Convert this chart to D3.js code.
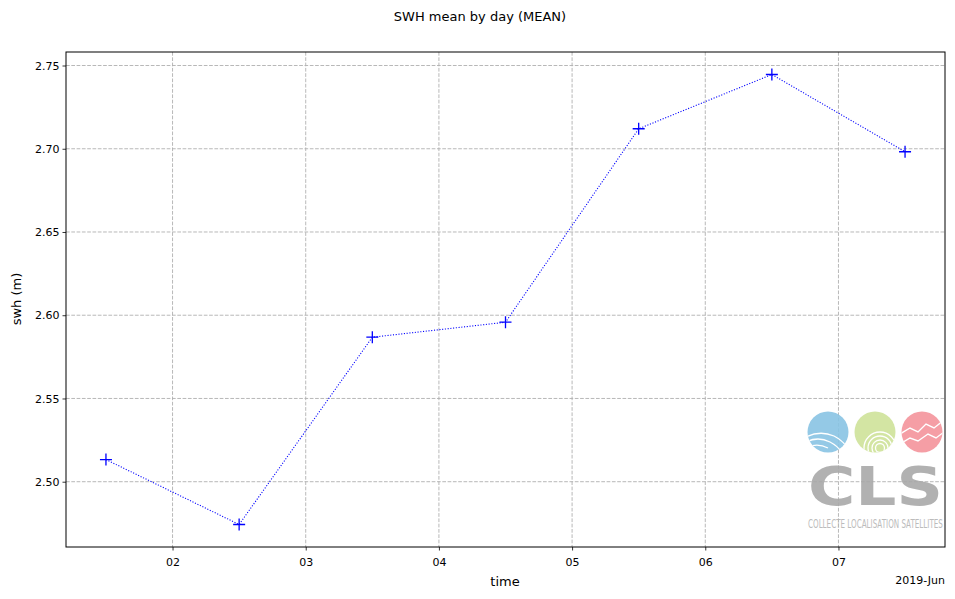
<!DOCTYPE html>
<html><head><meta charset="utf-8">
<script src="https://cdn.jsdelivr.net/npm/d3@7"></script>
<style>body{margin:0;background:#fff}svg{display:block}text{font-family:"DejaVu Sans",sans-serif}</style>
</head><body>
<svg id="c" width="955" height="599"></svg>
<script>
const days = ["2019-06-01","2019-06-02","2019-06-03","2019-06-04","2019-06-05","2019-06-06","2019-06-07"];
const swh = [2.5133, 2.4743, 2.5868, 2.5958, 2.7120, 2.7446, 2.6982];
const yTicks = [2.50, 2.55, 2.60, 2.65, 2.70, 2.75];
const xTickDays = ["2019-06-02","2019-06-03","2019-06-04","2019-06-05","2019-06-06","2019-06-07"];
const title = "SWH mean by day (MEAN)";
const xLabel = "time", yLabel = "swh (m)", xOffset = "2019-Jun";

const svg = d3.select("#c");
const L = 66, R = 945, T = 52, B = 547;
const parse = d3.utcParse("%Y-%m-%d");
const pts = days.map((d,i)=>({t: d3.utcHour.offset(parse(d),12), v: swh[i]}));
const t0 = pts[0].t, t1 = pts[pts.length-1].t, span = t1 - t0;
const x = d3.scaleUtc().domain([new Date(+t0 - span*0.05), new Date(+t1 + span*0.05)]).range([L,R]);
const vmin = d3.min(swh), vmax = d3.max(swh), vr = vmax - vmin;
const y = d3.scaleLinear().domain([vmin - vr*0.05, vmax + vr*0.05]).range([B,T]);
const xt = xTickDays.map(parse);

// grid
const g = svg.append("g");
g.selectAll(".gx").data(xt).join("line").attr("x1",d=>x(d)).attr("x2",d=>x(d)).attr("y1",T).attr("y2",B)
  .attr("stroke","#b0b0b0").attr("stroke-width",0.9).attr("stroke-dasharray","3.7,1.6");
g.selectAll(".gy").data(yTicks).join("line").attr("y1",d=>y(d)).attr("y2",d=>y(d)).attr("x1",L).attr("x2",R)
  .attr("stroke","#b0b0b0").attr("stroke-width",0.9).attr("stroke-dasharray","3.7,1.6");

// logo
const logo = svg.append("g").attr("opacity",0.9);
const defs = svg.append("defs");
const circ = [{cx:828,c:"#89c4e4"},{cx:875,c:"#cfe39a"},{cx:922,c:"#f4949c"}];
circ.forEach((c,i)=>{
  defs.append("clipPath").attr("id","cp"+i).append("circle").attr("cx",c.cx).attr("cy",432).attr("r",20.5);
  logo.append("circle").attr("cx",c.cx).attr("cy",432).attr("r",20.5).attr("fill",c.c);
});
const lw = logo.append("g").attr("clip-path","url(#cp0)").attr("fill","none").attr("stroke","#fff").attr("stroke-width",1.3);
["M806,437 Q820,430 834,436 Q842,440 850,450","M806,442 Q818,436 830,442 Q838,446 844,455","M808,447 Q818,443 828,448"].forEach(p=>lw.append("path").attr("d",p));
const lg = logo.append("g").attr("clip-path","url(#cp1)").attr("fill","none").attr("stroke","#fff").attr("stroke-width",1.3);
[16,12,8,4.5].forEach(r=>lg.append("circle").attr("cx",880).attr("cy",448).attr("r",r));
const lp = logo.append("g").attr("clip-path","url(#cp2)").attr("fill","none").attr("stroke","#fff").attr("stroke-width",1.4);
["M900,434 L910,428 L918,432 L926,424 L934,428 L944,420","M900,444 L910,438 L918,441 L928,434 L936,438 L944,432"].forEach(p=>lp.append("path").attr("d",p));

function fitText(sel, x0, yb, w){
  const n = sel.node().getComputedTextLength();
  const k = w / n;
  sel.attr("x",0).attr("y",0).attr("transform",`translate(${x0},${yb}) scale(${k},1)`);
}
const cls = logo.append("text").attr("font-family","Liberation Sans, Arial, sans-serif").attr("font-weight","bold")
  .attr("font-size",54).attr("fill","#a9a9a9").text("CLS");
fitText(cls, 808, 505, 135);
const sub = logo.append("text").attr("font-family","Liberation Sans Narrow, Liberation Sans, sans-serif")
  .attr("font-size",12).attr("fill","#b5b5b5").text("COLLECTE LOCALISATION SATELLITES");
fitText(sub, 808, 528, 135);

// line + markers
svg.append("path").datum(pts).attr("fill","none").attr("stroke","#0000ff").attr("stroke-width",1.1)
  .attr("stroke-dasharray","1.1,1.65").attr("d",d3.line().x(d=>x(d.t)).y(d=>y(d.v)));
const m = svg.append("g");
pts.forEach(d=>{
  const cx = x(d.t), cy = y(d.v), s = 6;
  m.append("path").attr("d",`M${cx-s},${cy}H${cx+s}M${cx},${cy-s}V${cy+s}`).attr("stroke","#0000ff").attr("stroke-width",1.3);
});

// frame
svg.append("rect").attr("x",L).attr("y",T).attr("width",R-L).attr("height",B-T).attr("fill","none").attr("stroke","#000").attr("stroke-width",1);

// axes
const ax = svg.append("g").attr("transform",`translate(0,${B})`)
  .call(d3.axisBottom(x).tickValues(xt).tickFormat(d3.utcFormat("%d")).tickSize(3.5).tickSizeOuter(0));
const ay = svg.append("g").attr("transform",`translate(${L},0)`)
  .call(d3.axisLeft(y).tickValues(yTicks).tickFormat(d3.format(".2f")).tickSize(3.5).tickSizeOuter(0));
[ax,ay].forEach(a=>{a.select(".domain").remove(); a.selectAll("text").attr("font-size",11).attr("fill","#000").attr("font-family","DejaVu Sans"); a.selectAll("line").attr("stroke","#000").attr("stroke-width",0.8);});
ax.selectAll("text").attr("dy","1.1em");

svg.append("text").attr("x",480).attr("y",21).attr("text-anchor","middle").attr("font-size",13).text(title);
svg.append("text").attr("x",505).attr("y",586).attr("text-anchor","middle").attr("font-size",13).text(xLabel);
svg.append("text").attr("transform","translate(21,299) rotate(-90)").attr("text-anchor","middle").attr("font-size",13).text(yLabel);
svg.append("text").attr("x",945).attr("y",584).attr("text-anchor","end").attr("font-size",11).text(xOffset);
</script>
</body></html>
